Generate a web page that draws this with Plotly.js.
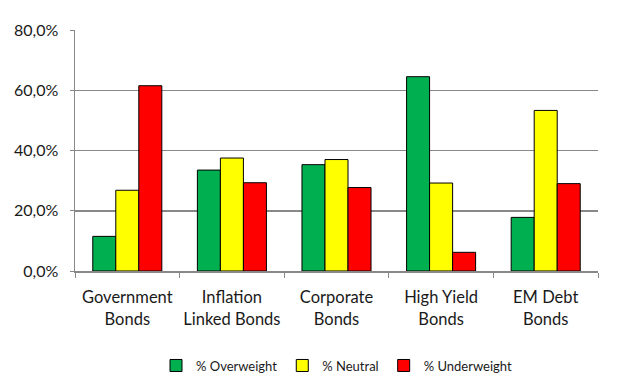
<!DOCTYPE html>
<html><head><meta charset="utf-8">
<script src="https://cdn.plot.ly/plotly-3.0.1.min.js"></script>
<style>html,body{margin:0;padding:0;background:#fff}#c{width:640px;height:390px}</style>
</head><body><div id="c"></div>
<script>
const categories = ["Government<br>Bonds","Inflation<br>Linked Bonds","Corporate<br>Bonds","High Yield<br>Bonds","EM Debt<br>Bonds"];
const overweight = [11.5, 33.5, 35.3, 64.5, 17.8];
const neutral = [26.8, 37.5, 37.0, 29.2, 53.3];
const underweight = [61.5, 29.3, 27.7, 6.2, 29.0];
const seriesNames = ["% Overweight", "% Neutral", "% Underweight"];
const colors = ["#00b050", "#ffff00", "#ff0000"];
const vals = [overweight, neutral, underweight];
const traces = vals.map((v,i)=>({type:'bar', x:categories, y:v, name:seriesNames[i],
  marker:{color:colors[i], line:{color:'#000', width:1}}, hoverinfo:'skip'}));
const font = {family:'Lato, "Open Sans", sans-serif', color:'#1a1a1a'};
Plotly.newPlot('c', traces, {
  width:640, height:390, separators:',.',
  margin:{l:75, r:42, t:30, b:119, autoexpand:false},
  paper_bgcolor:'#fff', plot_bgcolor:'#fff',
  bargap:0.34, bargroupgap:0,
  font:font,
  xaxis:{automargin:false, showline:true, linecolor:'#888', linewidth:1.5, ticks:'outside', tickson:'boundaries', ticklen:5, tickcolor:'#888', tickangle:0, ticklabelstandoff:11, tickfont:{size:16.5, family:font.family, color:'#1a1a1a'}},
  yaxis:{automargin:false, range:[0,80], dtick:20, tickformat:'.1f', ticksuffix:'%', showgrid:true, gridcolor:'#888', gridwidth:1.5, showline:true, linecolor:'#888', linewidth:1.5, ticks:'outside', ticklen:4, tickcolor:'#888', zeroline:false, ticklabelstandoff:8, tickfont:{size:16, family:font.family, color:'#1a1a1a'}},
  legend:{orientation:'h', x:0.5, xanchor:'center', y:-0.33, yanchor:'top', font:{size:13, family:font.family, color:'#1a1a1a'}, itemwidth:30, traceorder:'normal'},
  showlegend:true
}, {displayModeBar:false, staticPlot:true});
</script></body></html>
